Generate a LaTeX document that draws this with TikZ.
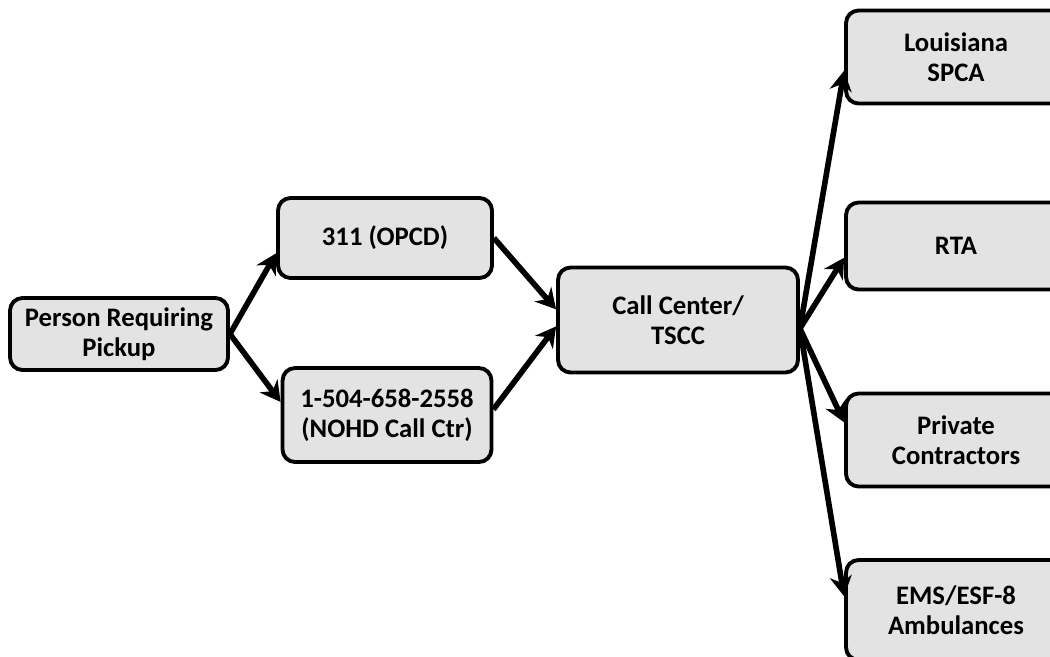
\documentclass[tikz,border=0pt]{standalone}
\usepackage{fontspec}
\setmainfont{Carlito}
\usetikzlibrary{arrows.meta}

\begin{document}
\begin{tikzpicture}[x=0.02cm, y=-0.02cm,
    box/.style={draw=black, line width=2.2pt, rounded corners=0.25cm, fill=gray!22,
      align=center, inner sep=0pt, font=\fontsize{15.2}{17}\selectfont\bfseries},
    side/.style={box, minimum width=4.4cm, minimum height=1.86cm},
    flow/.style={line width=3.2pt, -{Stealth[length=4mm, width=4.4mm]}}]
    \useasboundingbox (0,0) rectangle (1050,656);
    \clip (0,0) rectangle (1050,656); % right column runs off the page
    \node[box, minimum width=4.36cm, minimum height=1.44cm] (person) at (119,334) {Person Requiring\\Pickup};
    \node[box, minimum width=4.28cm, minimum height=1.6cm] (opcd) at (385,238) {311 (OPCD)};
    \node[box, minimum width=4.18cm, minimum height=1.88cm] (nohd) at (387,415) {1-504-658-2558\\(NOHD Call Ctr)};
    \node[box, minimum width=4.8cm, minimum height=2.1cm] (callctr) at (678,320) {Call Center/\\TSCC};
    \node[side] (spca) at (956,57) {Louisiana\\SPCA};
    \node[side, minimum height=1.74cm] (rta) at (956,246) {RTA};
    \node[side] (private) at (956,440) {Private\\Contractors};
    \node[side, minimum height=2cm] (ems) at (956,610) {EMS/ESF-8\\Ambulances};
    \draw[flow] (person.east) -- (opcd.188); % to 311
    \draw[flow] (person.east) -- (nohd.173); % to phone line
    \draw[flow] (opcd.east) -- (callctr.175);
    \draw[flow] (nohd.3) -- (callctr.183);
    \draw[flow] (callctr.356) -- (spca.187); % dispatch
    \draw[flow] (callctr.356) -- (rta.186);
    \draw[flow] (callctr.356) -- (private.171);
    \draw[flow] (callctr.356) -- (ems.173);
\end{tikzpicture}
\end{document}
